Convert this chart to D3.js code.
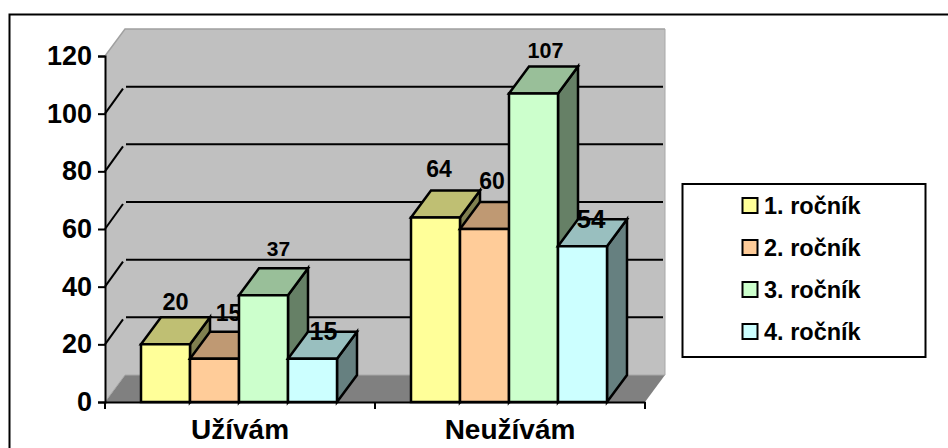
<!DOCTYPE html>
<html><head><meta charset="utf-8">
<script src="https://cdnjs.cloudflare.com/ajax/libs/d3/7.8.5/d3.min.js"></script>
<style>html,body{margin:0;padding:0;background:#fff;overflow:hidden}svg{display:block}text{font-family:"Liberation Sans",Arial,sans-serif;font-weight:bold;fill:#000}</style>
</head><body><svg id="c" width="948" height="448"></svg>
<script>
const categories = ["Užívám", "Neužívám"];
const seriesNames = ["1. ročník", "2. ročník", "3. ročník", "4. ročník"];
const values1 = [20, 64];
const values2 = [15, 60];
const values3 = [37, 107];
const values4 = [15, 54];
const yTicks = [0, 20, 40, 60, 80, 100, 120];
const frontColors = ["#ffff99", "#ffcc99", "#ccffcc", "#ccffff"];
const topColors = ["#bfbf73", "#bf9973", "#99bf99", "#99bfbf"];
const sideColors = ["#808050", "#80664d", "#668066", "#668080"];
// data-label placement relative to each column's front-top-centre, [category][series]
const labelDx = [[10, 14, 15, 11], [3.5, 7.5, 12, 8.5]];
const labelDy = [[-34, -38, -39, -19], [-40, -40, -35.5, -18]];
const labelSizes = [[23.5, 23, 21, 25], [23, 23, 21.5, 26]];

const seriesValues = [values1, values2, values3, values4];
const svg = d3.select("#c");
const x0 = 105, x1 = 645, yB = 402, yT = 56, dx = 20, dy = -27;
const y = d3.scaleLinear().domain([0, 120]).range([yB, yT]);
const xCat = d3.scaleBand().domain(categories).range([x0, x1]);
const xSer = d3.scaleBand().domain(d3.range(4)).range([36, 232]);

// outer frame runs past the right and bottom of the picture
svg.append("rect").attr("x", 9.5).attr("y", 14.5).attr("width", 1000).attr("height", 500).attr("fill", "#fff").attr("stroke", "#000").attr("stroke-width", 2);

const poly = (pts, fill, stroke, sw) => svg.append("polygon").attr("points", pts.map(p => p.join(",")).join(" ")).attr("fill", fill).attr("stroke", stroke || "none").attr("stroke-width", sw || 0);
poly([[x0, yB], [x0, yT], [x0 + dx, yT + dy], [x1 + dx, yT + dy], [x1 + dx, yB + dy], [x0 + dx, yB + dy]], "#c0c0c0");
svg.append("polyline").attr("points", [[x0, yT], [x0 + dx, yT + dy], [x1 + dx, yT + dy]].map(p => p.join(",")).join(" ")).attr("fill", "none").attr("stroke", "#a0a0a0").attr("stroke-width", 1.5);
poly([[x0, yB], [x1, yB], [x1 + dx, yB + dy], [x0 + dx, yB + dy]], "#808080");
svg.append("polyline").attr("points", [[x0, yB], [x0 + dx, yB + dy], [x1 + dx, yB + dy], [x1 + dx, yT + dy]].map(p => p.join(",")).join(" ")).attr("fill", "none").attr("stroke", "#a8a8a8").attr("stroke-width", 1);

yTicks.filter(t => t > 0 && t < 120).forEach(t => {
  svg.append("line").attr("x1", x0 + dx + 1).attr("x2", x1 + dx - 2).attr("y1", y(t) + dy).attr("y2", y(t) + dy).attr("stroke", "#000").attr("stroke-width", 2);
  svg.append("line").attr("x1", x0).attr("x2", x0 + dx - 2).attr("y1", y(t)).attr("y2", y(t) + dy + 2).attr("stroke", "#000").attr("stroke-width", 2);
});

const yAxis = d3.axisLeft(y).tickValues(yTicks).tickSize(7).tickPadding(6);
const gy = svg.append("g").attr("transform", `translate(${x0},0)`).call(yAxis);
gy.selectAll("path,line").attr("stroke", "#000").attr("stroke-width", 2);
gy.selectAll("text").style("font-size", "27px").style("font-family", '"Liberation Sans"').style("font-weight", "bold");
const xAxis = d3.axisBottom(xCat).tickSize(0).tickPadding(17);
const gx = svg.append("g").attr("transform", `translate(0,${yB})`).call(xAxis);
gx.select("path").attr("stroke", "#000").attr("stroke-width", 2);
gx.selectAll("text").style("font-size", "28px").style("font-family", '"Liberation Sans"').style("font-weight", "bold");
[x0, x0 + xCat.bandwidth(), x1].forEach(v => svg.append("line").attr("x1", v).attr("x2", v).attr("y1", yB).attr("y2", yB + 7).attr("stroke", "#000").attr("stroke-width", 2));

// columns and their labels are painted in series order, so a later column hides an earlier label
categories.forEach((c, ci) => {
  seriesValues.forEach((vals, si) => {
    const l = xCat(c) + xSer(si), w = xSer.bandwidth(), r = l + w, t = y(vals[ci]);
    poly([[r, yB], [r + dx, yB + dy], [r + dx, t + dy], [r, t]], sideColors[si], "#000", 2.5);
    poly([[l, t], [l + dx, t + dy], [r + dx, t + dy], [r, t]], topColors[si], "#000", 2.5);
    poly([[l, yB], [l, t], [r, t], [r, yB]], frontColors[si], "#000", 2.5);
    svg.append("text").attr("x", l + w / 2 + labelDx[ci][si]).attr("y", t + labelDy[ci][si]).attr("text-anchor", "middle").style("font-size", labelSizes[ci][si] + "px").text(vals[ci]);
  });
});

svg.append("rect").attr("x", 682.5).attr("y", 184).attr("width", 243).attr("height", 173).attr("fill", "#fff").attr("stroke", "#000").attr("stroke-width", 2);
seriesNames.forEach((n, i) => {
  const cy = 205.5 + i * 42;
  svg.append("rect").attr("x", 742.5).attr("y", cy - 7.5).attr("width", 15).attr("height", 15).attr("fill", frontColors[i]).attr("stroke", "#000").attr("stroke-width", 2);
  svg.append("text").attr("x", 764).attr("y", cy + 8).style("font-size", "23.5px").text(n);
});
</script></body></html>
